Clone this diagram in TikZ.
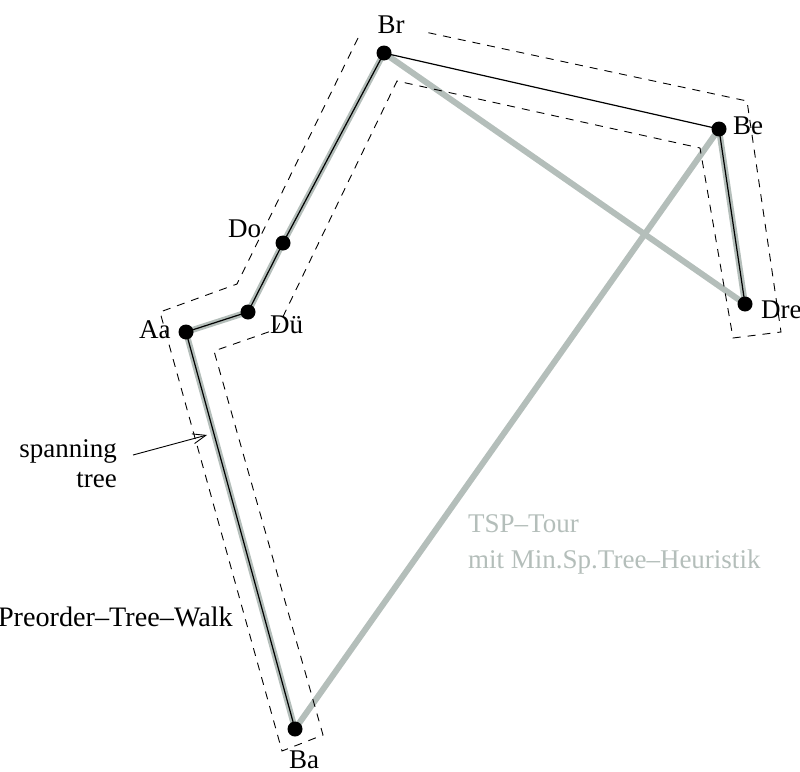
\documentclass[tikz,border=0pt]{standalone}
\usepackage{fontspec}
\setmainfont{Liberation Serif}
\usetikzlibrary{arrows.meta}
\definecolor{tourgray}{RGB}{180,190,186}
\begin{document}
\begin{tikzpicture}[x=1pt,y=-1pt,
  city/.style={circle,fill=black,inner sep=0pt,minimum size=15pt},
  lbl/.style={inner sep=0pt,font=\fontsize{27}{31}\selectfont},
  tour/.style={line width=6pt,draw=tourgray},
  treeedge/.style={line width=1.2pt,draw=black},
  walk/.style={line width=0.9pt,dash pattern=on 8pt off 7pt},
  pointer/.style={line width=0.9pt,-{Straight Barb[length=13pt,width=10pt,line width=0.9pt]}}]
\useasboundingbox (0,0) rectangle (800,771);
% cities
\coordinate (pBr) at (384,53);
\coordinate (pBe) at (719,129);
\coordinate (pDre) at (745,304);
\coordinate (pDo) at (283,243);
\coordinate (pDu) at (248,312);
\coordinate (pAa) at (186,332);
\coordinate (pBa) at (295,729);
% tour (gray)
\draw[tour] (pAa) -- (pDu);
\draw[tour] (pDu) -- (pDo);
\draw[tour] (pDo) -- (pBr);
\draw[tour] (pBr) -- (pDre);
\draw[tour] (pDre) -- (pBe);
\draw[tour] (pBe) -- (pBa);
\draw[tour] (pBa) -- (pAa);
% spanning tree (black)
\draw[treeedge] (pBr) -- (pDo);
\draw[treeedge] (pDo) -- (pDu);
\draw[treeedge] (pDu) -- (pAa);
\draw[treeedge] (pAa) -- (pBa);
\draw[treeedge] (pBr) -- (pBe);
\draw[treeedge] (pBe) -- (pDre);
% dots
\node[city] (Br) at (pBr) {};
\node[city] (Be) at (pBe) {};
\node[city] (Dre) at (pDre) {};
\node[city] (Do) at (pDo) {};
\node[city] (Du) at (pDu) {};
\node[city] (Aa) at (pAa) {};
\node[city] (Ba) at (pBa) {};
% preorder walk outline
\coordinate (w1) at (358,38);
\coordinate (w2) at (237,284);
\coordinate (w3) at (160,312);
\coordinate (w4) at (282,751);
\coordinate (w5) at (323,735);
\coordinate (w6) at (214,351);
\coordinate (w7) at (277,329);
\coordinate (w8) at (397,81);
\coordinate (w9) at (700,148);
\coordinate (w10) at (733,338);
\coordinate (w11) at (781,332);
\coordinate (w12) at (747,101);
\coordinate (w13) at (425,32);
\draw[walk] (w1) -- (w2) -- (w3) -- (w4) -- (w5) -- (w6) -- (w7) -- (w8) -- (w9) -- (w10) -- (w11) -- (w12) -- (w13);
% city labels
\node[lbl,anchor=base] (lBr) at (391,33) {Br};
\node[lbl,anchor=base west] (lBe) at (733,134) {Be};
\node[lbl,anchor=base west] (lDre) at (761,318) {Dre};
\node[lbl,anchor=base west] (lDo) at (228,237) {Do};
\node[lbl,anchor=base west] (lDu) at (270,333) {Dü};
\node[lbl,anchor=base west] (lAa) at (139,338) {Aa};
\node[lbl,anchor=base west] (lBa) at (289,768) {Ba};
% annotations
\node[lbl,anchor=base east] (span1) at (117,457) {spanning};
\node[lbl,anchor=base east] (span2) at (117,487) {tree};
\coordinate (spanTip) at (207,435);
\draw[pointer] (133,455) -- (spanTip);
\node[lbl,anchor=base east,font=\fontsize{28.2}{32}\selectfont] (walklbl) at (233,626) {Preorder–Tree–Walk};
\node[lbl,anchor=base west,text=tourgray] (tsp1) at (468,532) {TSP–Tour};
\node[lbl,anchor=base west,text=tourgray] (tsp2) at (468,568) {mit Min.Sp.Tree–Heuristik};
\end{tikzpicture}
\end{document}
